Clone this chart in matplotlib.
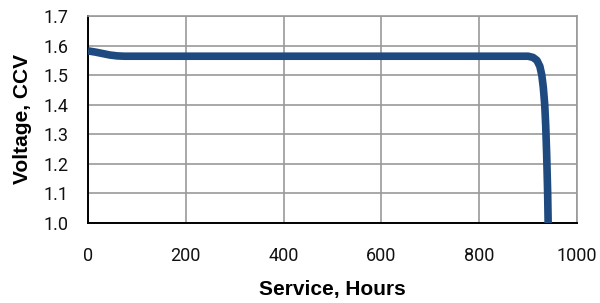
import matplotlib
matplotlib.use("Agg")
import matplotlib.pyplot as plt

hours = [0, 15, 30, 45, 60, 75, 200, 400, 600, 800, 900, 910, 918, 924, 928, 931, 934, 936, 938, 940, 941]
volts = [1.582, 1.578, 1.573, 1.568, 1.565, 1.564, 1.564, 1.564, 1.564, 1.564, 1.564, 1.560, 1.550, 1.530, 1.500, 1.460, 1.400, 1.330, 1.230, 1.100, 1.000]
x_ticks = [0, 200, 400, 600, 800, 1000]
y_ticks = [1.0, 1.1, 1.2, 1.3, 1.4, 1.5, 1.6, 1.7]

plt.rcParams['font.family'] = ['Roboto', 'DejaVu Sans']
fig = plt.figure(figsize=(6, 3.03), dpi=100)
ax = fig.add_axes([88/600, 1-223/303, (577-88)/600, (223-16)/303])
ax.plot(hours, volts, color='#1F4A80', lw=5.5, solid_capstyle='butt', zorder=3)
ax.set_xlim(0, 1000)
ax.set_ylim(1.0, 1.7)
ax.set_xticks(x_ticks)
ax.set_yticks(y_ticks)
ax.set_yticklabels([f"{v:.1f}" for v in y_ticks])
ax.tick_params(length=0, labelsize=13, colors='#111111')
ax.tick_params(axis='y', pad=14)
ax.tick_params(axis='x', pad=17)
ax.grid(True, color='#999999', lw=1.2)
ax.set_axisbelow(True)
for s in ['top', 'right']:
    ax.spines[s].set_color('#999999')
    ax.spines[s].set_linewidth(1.2)
for s in ['left', 'bottom']:
    ax.spines[s].set_color('black')
    ax.spines[s].set_linewidth(1.4)
ax.set_xlabel('Service, Hours', fontsize=15, fontweight='bold', labelpad=11,
              family=['Liberation Sans', 'DejaVu Sans'])
ax.set_ylabel('Voltage, CCV', fontsize=15, fontweight='bold', labelpad=8,
              family=['Liberation Sans', 'DejaVu Sans'])
fig.savefig('out.png', dpi=100)
